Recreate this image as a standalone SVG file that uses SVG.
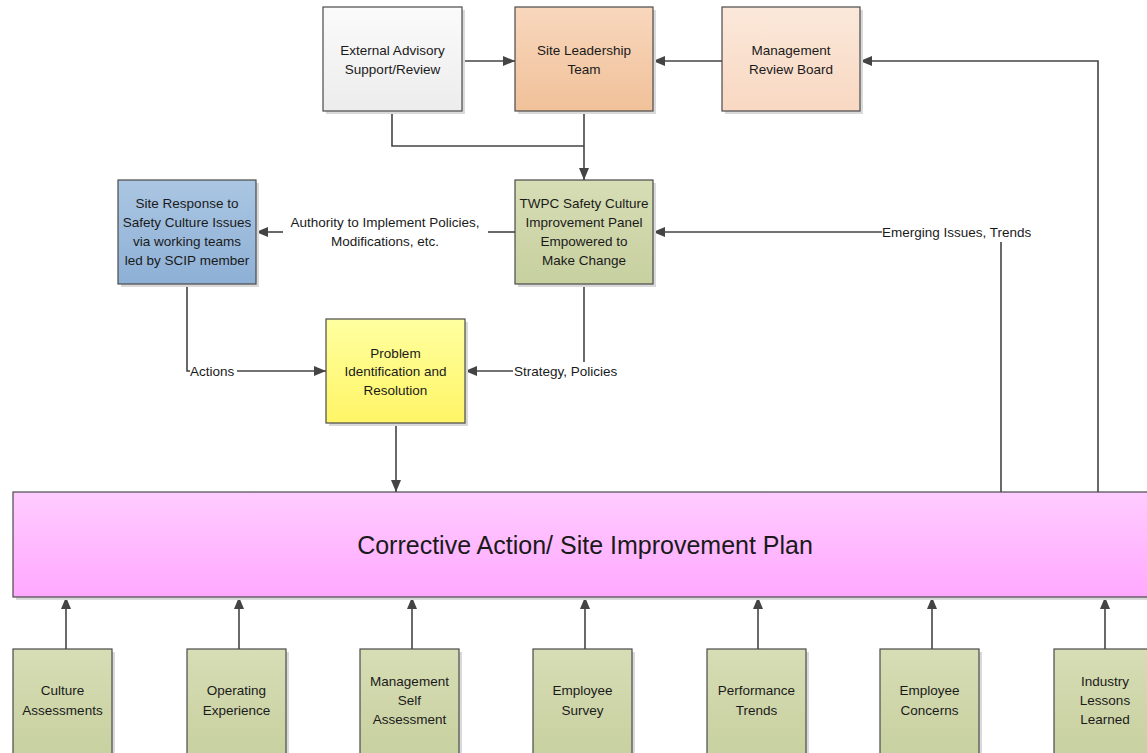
<svg xmlns="http://www.w3.org/2000/svg" width="1147" height="753" viewBox="0 0 1147 753">
  <style>
    .box { stroke: #4a4a4a; stroke-width: 1.2; }
    .shadow { fill: #d9d9d9; }
    .lbl { font-family: "Liberation Sans", Arial, sans-serif; font-size: 13.5px; fill: #1a1a1a; text-anchor: middle; }
    .edge { font-family: "Liberation Sans", Arial, sans-serif; font-size: 13.5px; fill: #1a1a1a; }
    .big { font-family: "Liberation Sans", Arial, sans-serif; font-size: 25px; fill: #1a1a1a; text-anchor: middle; }
    .wire { fill: none; stroke: #444; stroke-width: 1.6; }
  </style>
  <defs>
    <marker id="arrow" viewBox="0 0 12 10" refX="12" refY="5" markerWidth="12" markerHeight="10" markerUnits="userSpaceOnUse" orient="auto">
      <path d="M0,0 L12,5 L0,10 z" fill="#444"/>
    </marker>
    <linearGradient id="gWhite" x1="0" y1="0" x2="0" y2="1">
      <stop offset="0" stop-color="#fbfbfb"/><stop offset="1" stop-color="#ececec"/>
    </linearGradient>
    <linearGradient id="gOrange" x1="0" y1="0" x2="0" y2="1">
      <stop offset="0" stop-color="#f8d7bd"/><stop offset="1" stop-color="#f1c199"/>
    </linearGradient>
    <linearGradient id="gPeach" x1="0" y1="0" x2="0" y2="1">
      <stop offset="0" stop-color="#fbe8da"/><stop offset="1" stop-color="#f8d8c2"/>
    </linearGradient>
    <linearGradient id="gGreen" x1="0" y1="0" x2="0" y2="1">
      <stop offset="0" stop-color="#d7ddb5"/><stop offset="1" stop-color="#c7d09f"/>
    </linearGradient>
    <linearGradient id="gBlue" x1="0" y1="0" x2="0" y2="1">
      <stop offset="0" stop-color="#aac6e2"/><stop offset="1" stop-color="#8eb0d6"/>
    </linearGradient>
    <linearGradient id="gYellow" x1="0" y1="0" x2="0" y2="1">
      <stop offset="0" stop-color="#ffffa0"/><stop offset="1" stop-color="#fff566"/>
    </linearGradient>
    <linearGradient id="gPink" x1="0" y1="0" x2="0" y2="1">
      <stop offset="0" stop-color="#ffccff"/><stop offset="1" stop-color="#ffa8ff"/>
    </linearGradient>
  </defs>

  <rect width="1147" height="753" fill="#ffffff"/>

  <!-- connectors -->
  <g id="connectors">
    <line class="wire" x1="462" y1="61" x2="515" y2="61" marker-end="url(#arrow)"/>
    <line class="wire" x1="722" y1="61" x2="653" y2="61" marker-end="url(#arrow)"/>
    <polyline class="wire" points="1098,492 1098,61 860,61" marker-end="url(#arrow)"/>
    <polyline class="wire" points="392,111 392,146 584,146"/>
    <line class="wire" x1="584" y1="111" x2="584" y2="180" marker-end="url(#arrow)"/>
    <!-- authority link -->
    <line class="wire" x1="515" y1="232" x2="488" y2="232"/>
    <line class="wire" x1="283" y1="232" x2="256" y2="232" marker-end="url(#arrow)"/>
    <text class="edge" x="385" y="227" text-anchor="middle">Authority to Implement Policies,</text>
    <text class="edge" x="385" y="246" text-anchor="middle">Modifications, etc.</text>
    <!-- emerging issues -->
    <line class="wire" x1="1001" y1="492" x2="1001" y2="242"/>
    <line class="wire" x1="882" y1="232" x2="653" y2="232" marker-end="url(#arrow)"/>
    <text class="edge" x="882" y="237">Emerging Issues, Trends</text>
    <!-- actions -->
    <polyline class="wire" points="187,284 187,371 190,371"/>
    <text class="edge" x="190" y="376">Actions</text>
    <line class="wire" x1="237" y1="371" x2="326" y2="371" marker-end="url(#arrow)"/>
    <!-- strategy -->
    <line class="wire" x1="584" y1="284" x2="584" y2="362"/>
    <text class="edge" x="514" y="376">Strategy, Policies</text>
    <line class="wire" x1="513" y1="371" x2="465" y2="371" marker-end="url(#arrow)"/>
    <!-- problem resolution down -->
    <line class="wire" x1="396" y1="423" x2="396" y2="492" marker-end="url(#arrow)"/>
    <!-- inputs up -->
    <line class="wire" x1="66" y1="649" x2="66" y2="597" marker-end="url(#arrow)"/>
    <line class="wire" x1="239" y1="649" x2="239" y2="597" marker-end="url(#arrow)"/>
    <line class="wire" x1="412" y1="649" x2="412" y2="597" marker-end="url(#arrow)"/>
    <line class="wire" x1="585" y1="649" x2="585" y2="597" marker-end="url(#arrow)"/>
    <line class="wire" x1="758" y1="649" x2="758" y2="597" marker-end="url(#arrow)"/>
    <line class="wire" x1="932" y1="649" x2="932" y2="597" marker-end="url(#arrow)"/>
    <line class="wire" x1="1105" y1="649" x2="1105" y2="597" marker-end="url(#arrow)"/>
  </g>

  <g id="external-advisory">
    <rect class="shadow" x="326" y="10" width="139" height="104"/>
    <rect class="box" x="323" y="7" width="139" height="104" fill="url(#gWhite)"/>
    <text class="lbl" x="392.5" y="55">External Advisory</text>
    <text class="lbl" x="392.5" y="74">Support/Review</text>
  </g>
  <g id="site-leadership">
    <rect class="shadow" x="518" y="10" width="138" height="104"/>
    <rect class="box" x="515" y="7" width="138" height="104" fill="url(#gOrange)"/>
    <text class="lbl" x="584" y="55">Site Leadership</text>
    <text class="lbl" x="584" y="74">Team</text>
  </g>
  <g id="management-review">
    <rect class="shadow" x="725" y="10" width="138" height="104"/>
    <rect class="box" x="722" y="7" width="138" height="104" fill="url(#gPeach)"/>
    <text class="lbl" x="791" y="55">Management</text>
    <text class="lbl" x="791" y="74">Review Board</text>
  </g>
  <g id="site-response">
    <rect class="shadow" x="121" y="183" width="138" height="104"/>
    <rect class="box" x="118" y="180" width="138" height="104" fill="url(#gBlue)"/>
    <text class="lbl" x="187" y="208">Site Response to</text>
    <text class="lbl" x="187" y="227">Safety Culture Issues</text>
    <text class="lbl" x="187" y="246">via working teams</text>
    <text class="lbl" x="187" y="265">led by SCIP member</text>
  </g>
  <g id="improvement-panel">
    <rect class="shadow" x="518" y="183" width="138" height="104"/>
    <rect class="box" x="515" y="180" width="138" height="104" fill="url(#gGreen)"/>
    <text class="lbl" x="584" y="208">TWPC Safety Culture</text>
    <text class="lbl" x="584" y="227">Improvement Panel</text>
    <text class="lbl" x="584" y="246">Empowered to</text>
    <text class="lbl" x="584" y="265">Make Change</text>
  </g>
  <g id="problem-identification">
    <rect class="shadow" x="329" y="322" width="139" height="104"/>
    <rect class="box" x="326" y="319" width="139" height="104" fill="url(#gYellow)"/>
    <text class="lbl" x="395.5" y="358">Problem</text>
    <text class="lbl" x="395.5" y="376">Identification and</text>
    <text class="lbl" x="395.5" y="395">Resolution</text>
  </g>
  <g id="corrective-action">
    <rect class="shadow" x="16" y="495" width="1140" height="105"/>
    <rect class="box" x="13" y="492" width="1140" height="105" fill="url(#gPink)"/>
    <text class="big" x="585" y="554">Corrective Action/ Site Improvement Plan</text>
  </g>

  <g id="culture-assessments">
    <rect class="shadow" x="16" y="652" width="99" height="110"/>
    <rect class="box" x="13" y="649" width="99" height="110" fill="url(#gGreen)"/>
    <text class="lbl" x="62.5" y="695">Culture</text>
    <text class="lbl" x="62.5" y="715">Assessments</text>
  </g>
  <g id="operating-experience">
    <rect class="shadow" x="190" y="652" width="99" height="110"/>
    <rect class="box" x="187" y="649" width="99" height="110" fill="url(#gGreen)"/>
    <text class="lbl" x="236.5" y="695">Operating</text>
    <text class="lbl" x="236.5" y="715">Experience</text>
  </g>
  <g id="management-self-assessment">
    <rect class="shadow" x="363" y="652" width="99" height="110"/>
    <rect class="box" x="360" y="649" width="99" height="110" fill="url(#gGreen)"/>
    <text class="lbl" x="409.5" y="686">Management</text>
    <text class="lbl" x="409.5" y="705">Self</text>
    <text class="lbl" x="409.5" y="724">Assessment</text>
  </g>
  <g id="employee-survey">
    <rect class="shadow" x="536" y="652" width="99" height="110"/>
    <rect class="box" x="533" y="649" width="99" height="110" fill="url(#gGreen)"/>
    <text class="lbl" x="582.5" y="695">Employee</text>
    <text class="lbl" x="582.5" y="715">Survey</text>
  </g>
  <g id="performance-trends">
    <rect class="shadow" x="710" y="652" width="99" height="110"/>
    <rect class="box" x="707" y="649" width="99" height="110" fill="url(#gGreen)"/>
    <text class="lbl" x="756.5" y="695">Performance</text>
    <text class="lbl" x="756.5" y="715">Trends</text>
  </g>
  <g id="employee-concerns">
    <rect class="shadow" x="883" y="652" width="99" height="110"/>
    <rect class="box" x="880" y="649" width="99" height="110" fill="url(#gGreen)"/>
    <text class="lbl" x="929.5" y="695">Employee</text>
    <text class="lbl" x="929.5" y="715">Concerns</text>
  </g>
  <g id="industry-lessons">
    <rect class="shadow" x="1057" y="652" width="99" height="110"/>
    <rect class="box" x="1054" y="649" width="99" height="110" fill="url(#gGreen)"/>
    <text class="lbl" x="1105" y="686">Industry</text>
    <text class="lbl" x="1105" y="705">Lessons</text>
    <text class="lbl" x="1105" y="724">Learned</text>
  </g>
</svg>
